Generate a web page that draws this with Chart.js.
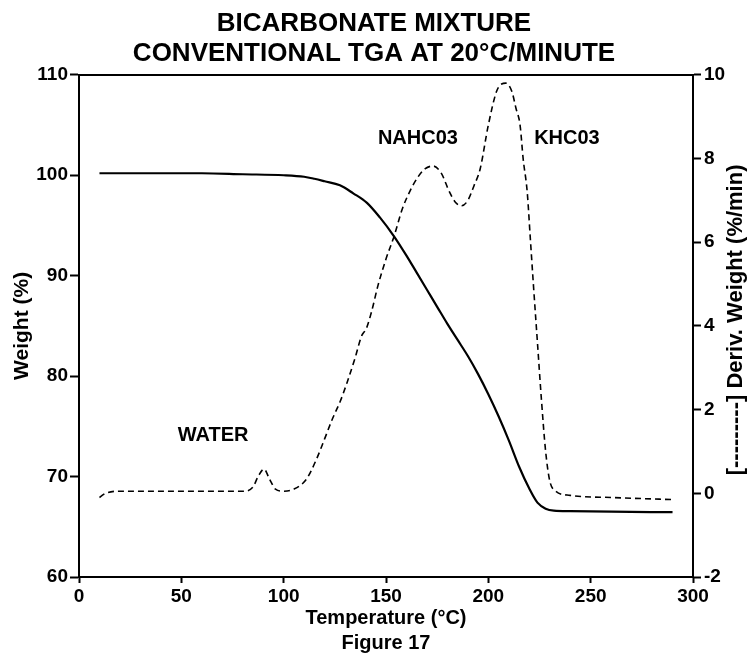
<!DOCTYPE html>
<html>
<head>
<meta charset="utf-8">
<script src="https://cdn.jsdelivr.net/npm/chart.js@4.4.0/dist/chart.umd.min.js"></script>
<style>
  html, body { margin: 0; padding: 0; background: #fff; }
</style>
</head>
<body>
<canvas id="tgaChart" width="748" height="658"></canvas>
<script>
// weight curve (solid, left axis)
const tgaTemp = [10, 20, 40, 60, 80, 100, 110, 115, 120, 127.5, 134, 140.7, 147, 154, 160, 165, 170, 175, 180, 185, 190, 195, 200, 205, 210, 215, 220, 224, 228, 232, 240, 260, 290];
const tgaWeight = [100.2, 100.2, 100.2, 100.2, 100.1, 100.0, 99.85, 99.65, 99.4, 99.0, 98.2, 97.25, 95.8, 93.9, 92.0, 90.3, 88.6, 86.9, 85.2, 83.6, 82.0, 80.2, 78.2, 76.0, 73.6, 71.0, 68.8, 67.4, 66.8, 66.6, 66.55, 66.5, 66.45];

// derivative curve (dashed, right axis)
const dtgTemp = [10, 13, 20, 40, 60, 80, 85, 87.5, 90.4, 93, 96, 100, 105, 111, 116, 120, 124, 127.5, 131, 135, 138, 140.5, 143, 146, 150, 154, 158, 162, 165.5, 169, 173, 177, 181, 184, 187, 190, 193, 196, 200, 204, 206.5, 208.5, 211.5, 213.5, 215.5, 217, 219, 220.5, 222, 224, 226, 228, 230, 233, 240, 260, 290];
const dtgDeriv = [-0.1, 0.0, 0.05, 0.05, 0.05, 0.05, 0.15, 0.4, 0.58, 0.35, 0.1, 0.05, 0.1, 0.33, 0.81, 1.3, 1.8, 2.18, 2.65, 3.25, 3.75, 3.95, 4.35, 4.95, 5.6, 6.15, 6.8, 7.25, 7.55, 7.75, 7.82, 7.65, 7.2, 6.95, 6.87, 7.0, 7.35, 7.75, 8.8, 9.6, 9.78, 9.8, 9.6, 9.2, 8.8, 8.0, 7.2, 6.1, 5.0, 3.6, 2.2, 1.0, 0.3, 0.05, -0.05, -0.1, -0.15];

// peak labels, placed in temperature / deriv units
const peakLabels = ['WATER', 'NAHC03', 'KHC03'];
const peakLabelTemp = [65.5, 165.6, 238.4];
const peakLabelDeriv = [1.39, 8.47, 8.47];

const derivTitle = '[---------] Deriv. Weight (%/min)';

const FONT = '"Liberation Sans", Arial, Helvetica, sans-serif';

const peakLabelPlugin = {
  id: 'peakLabels',
  afterDatasetsDraw(chart) {
    const { ctx, scales: { x, y1 } } = chart;
    ctx.save();
    ctx.font = 'bold 20px ' + FONT;
    ctx.fillStyle = '#000';
    ctx.textAlign = 'center';
    ctx.textBaseline = 'middle';
    peakLabels.forEach((txt, i) => {
      ctx.fillText(txt, x.getPixelForValue(peakLabelTemp[i]), y1.getPixelForValue(peakLabelDeriv[i]));
    });
    ctx.restore();
  }
};

// right axis title reads bottom-to-top, like the left one
const derivTitlePlugin = {
  id: 'derivTitle',
  afterDraw(chart) {
    const { ctx } = chart;
    const y1 = chart.scales.y1;
    ctx.save();
    ctx.translate(y1.right - 12, (y1.top + y1.bottom) / 2 - 6);
    ctx.rotate(-Math.PI / 2);
    ctx.font = 'bold 22px ' + FONT;
    ctx.fillStyle = '#000';
    ctx.textAlign = 'center';
    ctx.textBaseline = 'middle';
    ctx.fillText(derivTitle, 0, 0);
    ctx.restore();
  }
};

const axisGrid = (len) => ({
  drawOnChartArea: false,
  drawTicks: true,
  tickLength: len,
  tickWidth: 2,
  tickColor: '#000',
  color: '#000'
});
const axisBorder = { display: true, color: '#000', width: 2 };
const tickFont = { family: FONT, size: 19, weight: 'bold' };

new Chart(document.getElementById('tgaChart'), {
  type: 'line',
  data: {
    datasets: [
      {
        label: 'Weight',
        data: tgaTemp.map((t, i) => ({ x: t, y: tgaWeight[i] })),
        yAxisID: 'y',
        borderColor: '#000',
        borderWidth: 2.2,
        pointRadius: 0,
        cubicInterpolationMode: 'monotone',
        fill: false
      },
      {
        label: 'Deriv. Weight',
        data: dtgTemp.map((t, i) => ({ x: t, y: dtgDeriv[i] })),
        yAxisID: 'y1',
        borderColor: '#000',
        borderWidth: 1.6,
        borderDash: [6, 4],
        pointRadius: 0,
        cubicInterpolationMode: 'monotone',
        fill: false
      }
    ]
  },
  options: {
    responsive: false,
    animation: false,
    layout: { padding: 0 },
    plugins: {
      legend: { display: false },
      tooltip: { enabled: false },
      title: {
        display: true,
        text: ['BICARBONATE MIXTURE', 'CONVENTIONAL TGA AT 20°C/MINUTE'],
        color: '#000',
        font: { family: FONT, size: 26, weight: 'bold', lineHeight: 1.15 },
        padding: { top: 9, bottom: 4 }
      }
    },
    scales: {
      x: {
        type: 'linear',
        position: 'bottom',
        min: 0,
        max: 300,
        ticks: { stepSize: 50, color: '#000', font: tickFont, padding: 2, maxRotation: 0 },
        grid: axisGrid(6),
        border: axisBorder,
        title: {
          display: true,
          text: ['Temperature (°C)', 'Figure 17'],
          color: '#000',
          font: { family: FONT, size: 20, weight: 'bold', lineHeight: 1.25 },
          padding: { top: 0, bottom: 2.5 }
        },
        afterFit: (s) => { s.height = 81; }
      },
      x2: {
        type: 'linear',
        position: 'top',
        min: 0,
        max: 300,
        ticks: { display: false },
        grid: { drawOnChartArea: false, drawTicks: false },
        border: axisBorder,
        afterFit: (s) => { s.height = 2; }
      },
      y: {
        type: 'linear',
        position: 'left',
        min: 60,
        max: 110,
        ticks: { stepSize: 10, color: '#000', font: tickFont, padding: 2 },
        grid: axisGrid(9),
        border: axisBorder,
        title: {
          display: true,
          text: 'Weight (%)',
          color: '#000',
          font: { family: FONT, size: 21, weight: 'bold', lineHeight: 1.2 },
          padding: { top: 10, bottom: 0 }
        },
        afterFit: (s) => { s.width = 79; }
      },
      y1: {
        type: 'linear',
        position: 'right',
        min: -2,
        max: 10,
        ticks: { stepSize: 2, color: '#000', font: tickFont, padding: 3 },
        grid: axisGrid(8),
        border: axisBorder,
        title: { display: false },
        afterFit: (s) => { s.width = 55; }
      }
    }
  },
  plugins: [peakLabelPlugin, derivTitlePlugin]
});
</script>
</body>
</html>
